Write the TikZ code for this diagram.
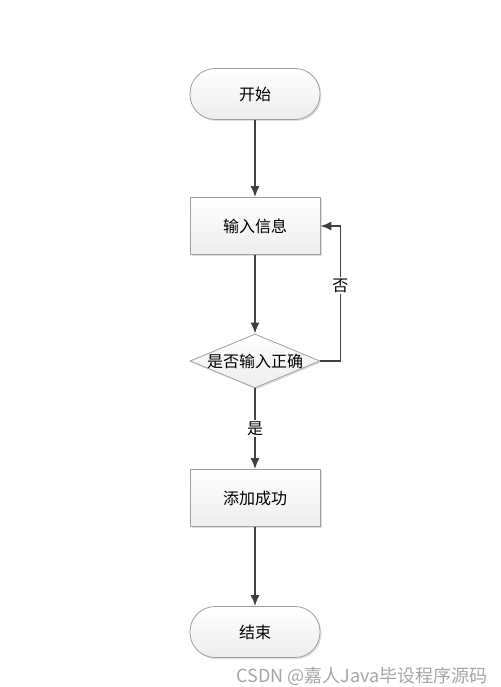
\documentclass[tikz,border=0pt]{standalone}
\usepackage{fontspec}
\newfontfamily\cjk{Noto Sans CJK SC}
\usetikzlibrary{shapes.geometric,shadows,arrows.meta}

\tikzset{
  box/.style={draw=gray!75, line width=.8pt, top color=white, bottom color=gray!14,
    minimum width=130pt, minimum height=57pt, inner sep=0pt,
    drop shadow={opacity=.25, shadow xshift=1.5pt, shadow yshift=-1.5pt},
    font=\cjk\fontsize{16}{19}\selectfont},
  term/.style={box, rounded corners=25pt, minimum height=51pt},
  test/.style={box, shape=diamond, aspect=2.5, inner sep=-3pt, minimum height=54pt},
  flow/.style={draw=black!75, line width=1.6pt, -{Latex[length=11pt,width=9pt]}},
  lbl/.style={fill=white, inner sep=1.5pt, font=\cjk\fontsize{16}{19}\selectfont}
}

\begin{document}
\begin{tikzpicture}[x=1pt,y=-1pt]
\useasboundingbox (0,0) rectangle (500,687);
\node[term] (start) at (255,94) {开始};
\node[box] (input) at (255,226) {输入信息};
\node[test] (check) at (255,361) {是否输入正确};
\node[box] (add) at (255,498) {添加成功};
\node[term] (stop) at (255,632) {结束};

\draw[flow] (start) -- (input);
\draw[flow] (input) -- (check);
\draw[flow] (check.east) -- ++(20,0) |- node[lbl, pos=.28] {否} (input.east);
\draw[flow] (check) -- node[lbl] {是} (add);
\draw[flow] (add) -- (stop);

\node[text=gray!70, font=\cjk\fontsize{18}{20}\selectfont, anchor=east, inner sep=0pt] (mark) at (488,676) {CSDN @嘉人Java毕设程序源码};
\end{tikzpicture}
\end{document}
